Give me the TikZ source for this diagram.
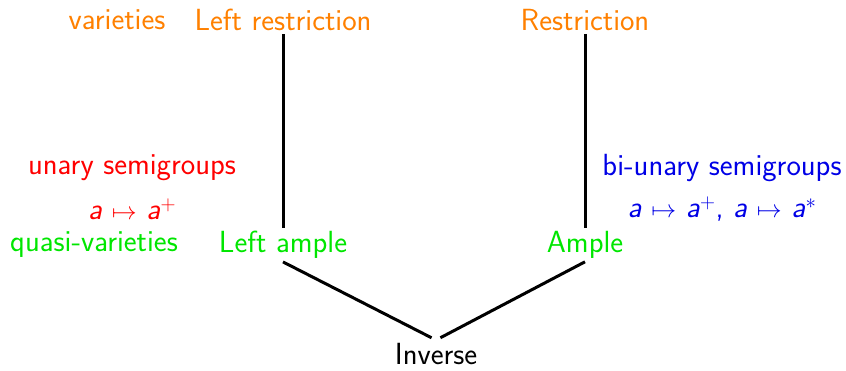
\documentclass[tikz,border=0pt]{standalone}
\usepackage{fontspec}
\definecolor{varorange}{RGB}{255,128,0}
\definecolor{unred}{RGB}{255,0,0}
\definecolor{qgreen}{RGB}{0,230,0}
\definecolor{biblue}{RGB}{0,0,230}
\newcommand{\slanta}{\textit{a}}
\begin{document}
\begin{tikzpicture}[x=1pt,y=-1pt,
    every node/.style={font=\fontsize{30.6}{36}\selectfont\sffamily, inner sep=3pt},
    link/.style={line width=3pt, black}]
  \useasboundingbox (0,0) rectangle (846,370);
  % top row: varieties
  \node[text=varorange] (var) at (117,20) {varieties};
  \node[text=varorange] (lr) at (283,20) {Left restriction};
  \node[text=varorange] (r) at (585,20) {Restriction};
  % unary / bi-unary signatures
  \node[text=unred] (un) at (132,168) {unary semigroups};
  \node[text=unred] (unmap) at (132,209) {\slanta\ $\mapsto$ \slanta$^{+}$};
  \node[text=biblue] (bi) at (722,168) {bi-unary semigroups};
  \node[text=biblue] (bimap) at (722,209) {\slanta\ $\mapsto$ \slanta$^{+}$, \slanta\ $\mapsto$ \slanta$^{*}$};
  % middle row: quasi-varieties
  \node[text=qgreen] (qv) at (94,245) {quasi-varieties};
  \node[text=qgreen] (la) at (283,245) {Left ample};
  \node[text=qgreen] (a) at (585,245) {Ample};
  % bottom
  \node[text=black] (inv) at (436,354) {Inverse};
  % inclusions
  \draw[link] (lr.south) -- (la.north);
  \draw[link] (r.south) -- (a.north);
  \draw[link, shorten >=5pt] (la.south) -- (inv.north);
  \draw[link, shorten >=5pt] (a.south) -- (inv.north);
\end{tikzpicture}
\end{document}
